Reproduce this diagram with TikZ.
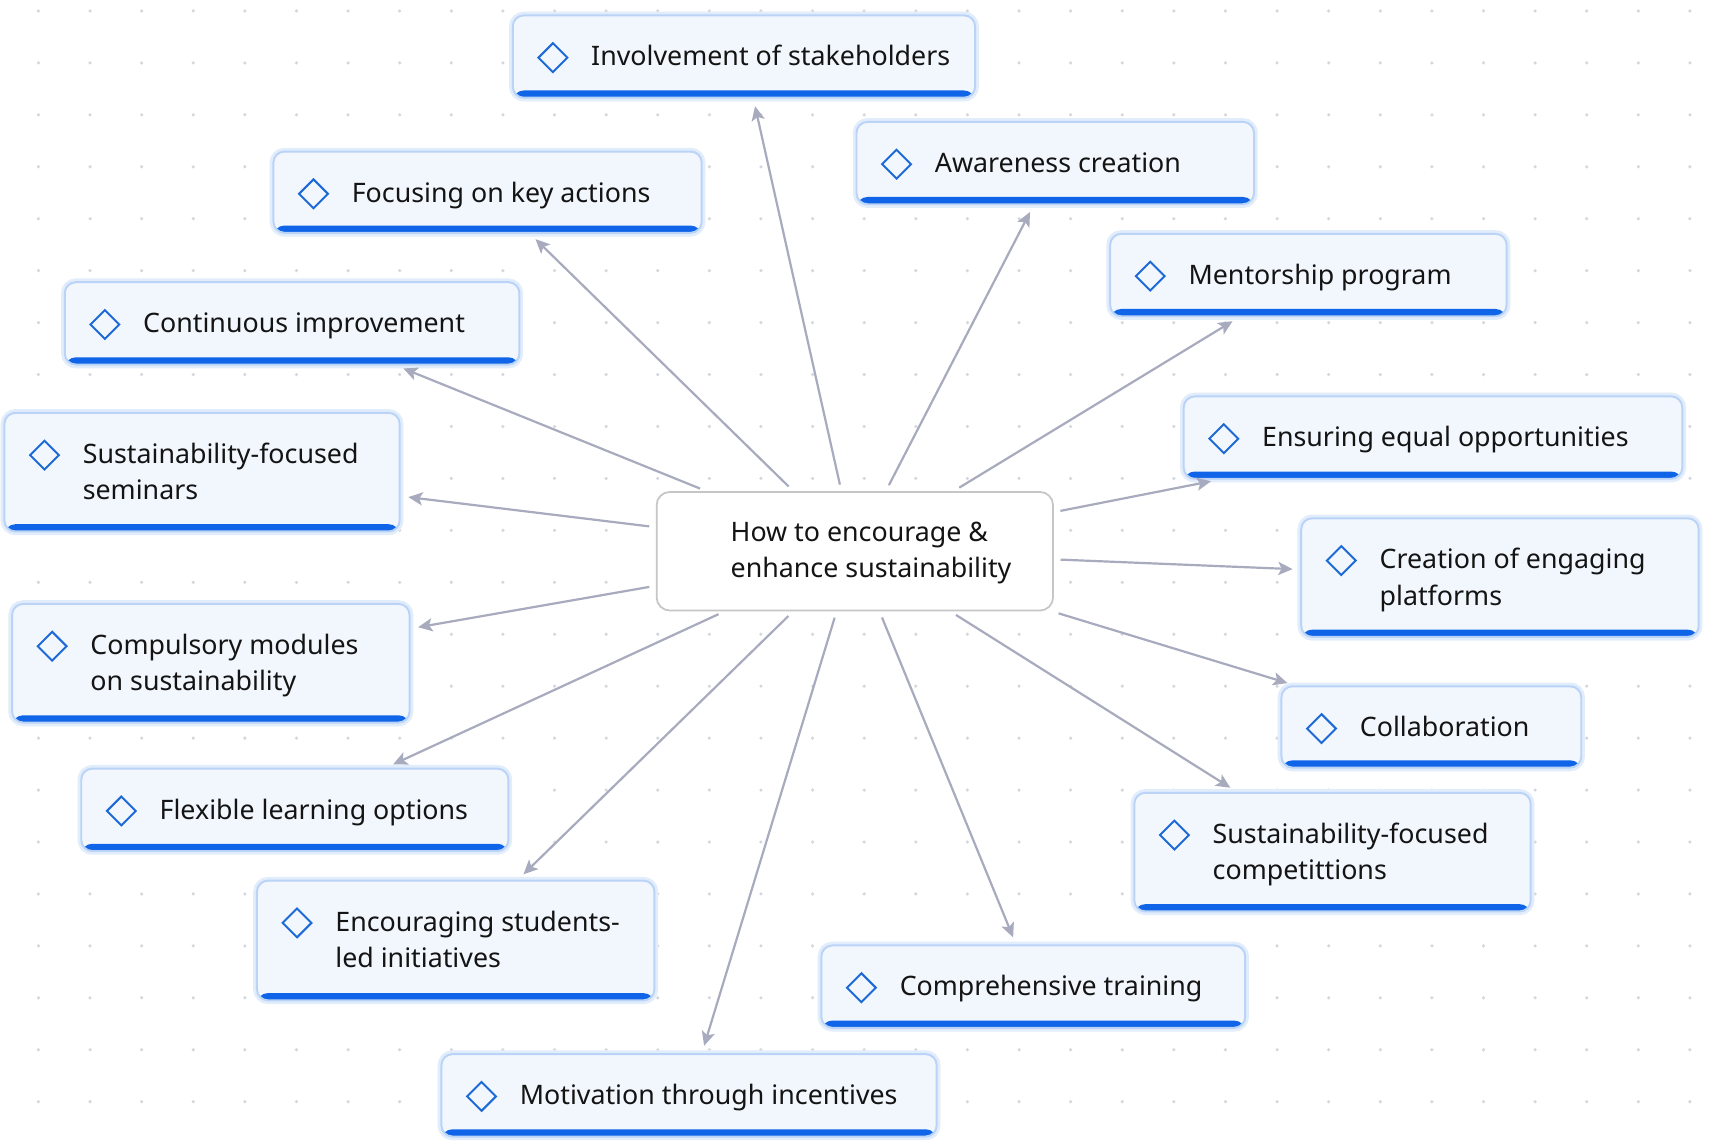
\documentclass[tikz,border=0pt]{standalone}
\usepackage{fontspec}
\setmainfont{Noto Sans}
\usetikzlibrary{shapes.geometric,arrows.meta,calc}
\definecolor{boxfill}{HTML}{F2F7FE}
\definecolor{boxline}{HTML}{BAD3F6}
\definecolor{glowc}{HTML}{E2EDFC}
\definecolor{barblue}{HTML}{0F64E8}
\definecolor{iconblue}{HTML}{1D6AD6}
\definecolor{arrowc}{HTML}{A8AABD}
\definecolor{dotc}{HTML}{D4D7DD}
\definecolor{textc}{HTML}{141414}
\definecolor{hubline}{HTML}{C6C6C6}
\newcommand{\topic}[6]{%
  \node[topicbox, minimum width={0.5pt*(#4-#2)}, minimum height={0.5pt*(#5-#3)}] (#1) at ({(#2+#4)/2},{(#3+#5)/2}) {};
  \node[icon] (#1i) at (#2+36.5,#3+38.5) {};
  \node[topictext, anchor=north west] (#1t) at (#2+71,#3+22.5) {#6};
}
\begin{document}
\begin{tikzpicture}[x=0.5pt,y=-0.5pt,
  topicbox/.style={rectangle, rounded corners=5pt, fill=boxfill, draw=boxline, line width=0.9pt,
    preaction={draw=glowc, line width=3.4pt},
    path picture={\fill[barblue] ([yshift=-1pt]path picture bounding box.south west) rectangle ([yshift=3.3pt]path picture bounding box.south east);},
    inner sep=0pt},
  hubbox/.style={rectangle, rounded corners=6pt, fill=white, draw=hubline, line width=0.8pt, inner sep=0pt},
  icon/.style={diamond, draw=iconblue, line width=0.9pt, minimum width=13.5pt, minimum height=13.5pt, inner sep=0pt},
  topictext/.style={font=\fontsize{12.2pt}{16.5pt}\selectfont, align=left, inner sep=0pt, text=textc},
  conn/.style={draw=arrowc, line width=1pt, shorten <=3pt, shorten >=3.5pt,
    -{Stealth[length=6.5pt,width=6pt,inset=1.5pt]}}
]
\useasboundingbox (0,0) rectangle (1560,1043);
\fill[white] (0,0) rectangle (1560,1043);
\foreach \i in {0,...,32}{
  \foreach \j in {0,...,22}{
    \fill[dotc] ({35+47*\i},{10+47.3*\j}) circle[radius=0.8pt];
  }
}
\topic{inv}{467}{14}{888}{89}{\strut Involvement of stakeholders}
\topic{awa}{780}{111}{1142}{186}{\strut Awareness creation}
\topic{foc}{249}{138}{639}{212}{\strut Focusing on key actions}
\topic{men}{1011}{213}{1372}{288}{\strut Mentorship program}
\topic{con}{59}{257}{473}{332}{\strut Continuous improvement}
\topic{equ}{1078}{361}{1532}{436}{\strut Ensuring equal opportunities}
\topic{sem}{4}{376}{364}{484}{\strut Sustainability-focused\\\strut seminars}
\topic{cre}{1185}{472}{1547}{580}{\strut Creation of engaging\\\strut platforms}
\topic{cmp}{11}{550}{373}{658}{\strut Compulsory modules\\\strut on sustainability}
\topic{col}{1167}{625}{1440}{699}{\strut Collaboration}
\topic{fle}{74}{700}{463}{775}{\strut Flexible learning options}
\topic{cpt}{1033}{722}{1394}{830}{\strut Sustainability-focused\\\strut competittions}
\topic{enc}{234}{802}{596}{911}{\strut Encouraging students-\\\strut led initiatives}
\topic{tra}{748}{861}{1134}{936}{\strut Comprehensive training}
\topic{mot}{402}{960}{853}{1035}{\strut Motivation through incentives}
\node[hubbox, minimum width={0.5pt*361}, minimum height={0.5pt*108}] (hub) at (778.5,502) {};
\node[topictext, anchor=west] (hubt) at (665,503) {\strut How to encourage \&\\\strut enhance sustainability};
\foreach \t in {inv,awa,foc,men,con,equ,sem,cre,cmp,col,fle,cpt,enc,tra,mot}{
  \draw[conn] (hub) -- (\t);
}
\end{tikzpicture}
\end{document}
